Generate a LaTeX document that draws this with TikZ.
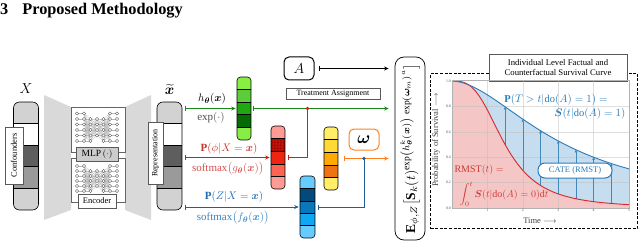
\documentclass[tikz,border=0pt]{standalone}
\usepackage{amsmath,amssymb}
\usepackage{bm}
\usepackage{graphicx}
\usepackage{fontspec}
\setmainfont{Liberation Serif}
\usetikzlibrary{arrows.meta,calc,patterns}
\definecolor{gA}{HTML}{88EE44}
\definecolor{gB}{HTML}{5CCC3A}
\definecolor{gC}{HTML}{1FA810}
\definecolor{gD}{HTML}{056B05}
\definecolor{rA}{HTML}{FF9A94}
\definecolor{rB}{HTML}{B00A00}
\definecolor{rC}{HTML}{EE2511}
\definecolor{rD}{HTML}{FF6452}
\definecolor{yA}{HTML}{FFEE66}
\definecolor{yB}{HTML}{FFD935}
\definecolor{yC}{HTML}{FFAA00}
\definecolor{yD}{HTML}{EE7412}
\definecolor{bA}{HTML}{66CCFF}
\definecolor{bB}{HTML}{034A7C}
\definecolor{bC}{HTML}{0A76BB}
\definecolor{bD}{HTML}{10A6F0}
\definecolor{kA}{HTML}{D2D2D2}
\definecolor{kB}{HTML}{5E5E5E}
\definecolor{kC}{HTML}{9A9A9A}
\definecolor{lgreen}{HTML}{1A871A}
\definecolor{lred}{HTML}{C0261E}
\definecolor{lblue}{HTML}{1F5E9E}
\definecolor{lorange}{HTML}{FF8020}
\definecolor{tred}{HTML}{C8322A}
\definecolor{tred2}{HTML}{D65050}
\definecolor{tblue}{HTML}{1F6AAE}
\definecolor{tblue2}{HTML}{3A84C4}
\definecolor{pblue}{HTML}{2C7BB6}
\definecolor{pred}{HTML}{D62728}
\definecolor{ptxtred}{HTML}{CC3B33}
\definecolor{fillred}{HTML}{F5C6C6}
\definecolor{fillblue}{HTML}{C6DDEF}
\definecolor{trap}{HTML}{D9D9D9}
\newcommand{\labfont}{\fontsize{11}{13}\selectfont}
% #1 = first row y, #2 = number of rows, #3 = row spacing
\newcommand{\mlpnet}[3]{%
  \pgfmathtruncatemacro\nmid{#2-1}%
  \foreach \r in {1,...,#2}{
    \draw[netline] (77,{#1+#3*(\r-1)}) -- (84,{#1+#3*(\r-1)});
    \draw[netline] (110,{#1+#3*(\r-1)}) -- (117,{#1+#3*(\r-1)});
    \foreach \s in {2,...,#2}{
      \draw[netline] (84,{#1+#3*(\r-1)}) -- (90.5,{#1+#3*(\s-1)});
      \draw[netline] (103.5,{#1+#3*(\s-1)}) -- (110,{#1+#3*(\r-1)});
    }
  }
  \foreach \r in {2,...,#2}{
    \foreach \s in {2,...,\nmid}{
      \draw[netline] (90.5,{#1+#3*(\r-1)}) -- (97,{#1+#3*(\s-1)}) -- (103.5,{#1+#3*(\r-1)});
    }
  }
  \foreach \r in {1,...,#2}{
    \foreach \xx in {77,84,110,117}{
      \filldraw[netnode] (\xx,{#1+#3*(\r-1)}) circle (1.7);
    }
  }
  \foreach \r in {2,...,#2}{
    \foreach \xx in {90.5,103.5}{
      \filldraw[netnode] (\xx,{#1+#3*(\r-1)}) circle (1.7);
    }
  }
  \foreach \s in {2,...,\nmid}{
    \filldraw[netnode] (97,{#1+#3*(\s-1)}) circle (1.7);
  }
}
\tikzset{
  vec/.style={draw, line width=0.6pt, rounded corners=3.5pt, minimum width=14pt,
    minimum height=63pt, inner sep=0pt,
    path picture={
      \foreach \c [count=\j] in {#1}{
        \pgfmathsetmacro\fa{(\j-1)/5}\pgfmathsetmacro\fb{\j/5}
        \fill[\c, sharp corners] ($(path picture bounding box.north west)!\fa!(path picture bounding box.south west)$) rectangle ($(path picture bounding box.north east)!\fb!(path picture bounding box.south east)$);
      }
      \foreach \i in {1,2,3,4}{
        \draw[black, line width=0.6pt, sharp corners] ($(path picture bounding box.north west)!\i/5!(path picture bounding box.south west)$) -- ($(path picture bounding box.north east)!\i/5!(path picture bounding box.south east)$);
      }
    }},
  col/.style={minimum width=25pt, minimum height=108pt, rounded corners=6pt},
  conn/.style={line width=0.8pt, arrows={Bar[width=5pt]-Stealth[length=4.5pt,width=4pt]}},
  branch/.style={line width=0.8pt, arrows={-Bar[width=5pt]}},
  netline/.style={gray!55, line width=0.25pt},
  netnode/.style={draw=gray!70!black, fill=white, line width=0.3pt},
  tagbox/.style={draw=gray!70!black, fill=white, line width=0.5pt, inner sep=1pt},
  gridc/.style={gray!50, line width=0.25pt, opacity=0.5},
  lab/.style={font=\labfont, inner sep=0pt},
}
\begin{document}
\begin{tikzpicture}[x=1pt,y=-1pt]
\useasboundingbox (0,0) rectangle (640,246);

% title
\node[anchor=base west, inner sep=0, font=\fontsize{16.3}{18}\selectfont\bfseries] (title) at (0,15) {3\hspace{14pt}Proposed Methodology};

% encoder trapezoids
\fill[trap] (44,95) -- (71,107) -- (71,210) -- (44,220) -- cycle;
\fill[trap] (125,107) -- (151,95) -- (151,220) -- (125,210) -- cycle;

% MLP boxes
\node[draw=gray!80!black, line width=0.5pt, fill=white, minimum width=54pt, minimum height=45pt, anchor=north west, inner sep=0] (mlptop) at (71,107) {};
\node[draw=gray!80!black, line width=0.5pt, fill=white, minimum width=54pt, minimum height=44pt, anchor=north west, inner sep=0] (mlpbot) at (71,158) {};
\mlpnet{113.5}{6}{5.5}
\mlpnet{166}{6}{5}
\node[draw=gray!70!black, fill=gray!40, line width=0.5pt, minimum width=42pt, minimum height=14pt, inner sep=1pt, font=\fontsize{9.5}{11}\selectfont] (mlplab) at (97,154) {MLP\,$(\cdot)$};
\node[tagbox, minimum width=38pt, minimum height=14pt, font=\fontsize{8.5}{10}\selectfont] (enclab) at (97,201) {Encoder};

% input and representation columns
\node[vec={kA,white,kB,kC,kA}, col] (xcol) at (26,156) {};
\node[vec={kA,white,kB,kC,kA}, col] (xt) at (169.5,156) {};
\node[inner sep=0, font=\fontsize{14}{16}\selectfont] (xlab) at (26,89) {$X$};
\node[inner sep=0, font=\fontsize{14}{16}\selectfont] (xtlab) at (169.5,89.5) {$\widetilde{\bm x}$};
\node[tagbox, rotate=90, minimum width=57pt, minimum height=18pt, font=\fontsize{8.5}{10}\selectfont] (conf) at (14,155.5) {Confounders};
\node[tagbox, rotate=90, minimum width=62pt, minimum height=15pt, font=\fontsize{8}{10}\selectfont] (repr) at (155.5,153) {Representation};

% vectors
\node[vec={gA,gB,gC,gD,gA}] (gv) at (244,108.5) {};
\node[vec={rA,rB,rC,rD,rA}] (rv) at (278,157.5) {};
\fill[pattern=dots, pattern color=rA!70!rB] ($(rv.north west)!0.22!(rv.south west)+(2.5,0)$) rectangle ($(rv.north east)!0.38!(rv.south east)+(-2.5,0)$);
\node[vec={yA,yB,yC,yD,yA}] (yv) at (331,158.5) {};
\node[vec={bA,bB,bC,bD,bA}, minimum width=15pt, minimum height=62pt] (bv) at (307.5,207) {};

% boxes
\node[draw, line width=1pt, rounded corners=5pt, minimum width=30pt, minimum height=23pt, font=\fontsize{15}{17}\selectfont] (Abox) at (299,68.5) {$A$};
\node[tagbox, minimum width=94pt, minimum height=11pt, inner sep=0.5pt, font=\fontsize{8}{9}\selectfont] (tassign) at (333,93.5) {Treatment Assignment};
\node[draw=lorange, line width=1pt, rounded corners=5pt, fill=white, minimum width=30pt, minimum height=21pt, font=\fontsize{17}{19}\selectfont] (omega) at (364,139.5) {$\bm\omega$};
\node[draw, line width=0.7pt, rounded corners=9pt, minimum width=30pt, minimum height=183pt] (ebox) at (410,148.5) {};
\node[rotate=90, inner sep=0] (etext) at (ebox.center) {\resizebox{170pt}{!}{$\mathbf{E}_{\phi,Z}\big[\mathbf{S}_k(t)^{\exp\left(h_{\bm\theta}^k(\bm x)\right)\,\exp(\bm\omega_m)^a}\big]$}};

% connectors
\coordinate (j1) at (gv.east -| bv.north);
\coordinate (j2) at (yv.east -| omega.south);
\draw[conn, lgreen] ($(xt.east |- gv.west)+(3,0)$) -- ($(gv.west)+(-1,0)$);
\draw[conn, lred] ($(xt.east |- rv.west)+(3,0)$) -- ($(rv.west)+(-1,0)$);
\draw[conn, lblue] ($(xt.east |- bv.west)+(3,0)$) -- ($(bv.west)+(-1,0)$);
\draw[conn, lgreen] ($(gv.east)+(2,0)$) -- ($(ebox.west |- gv.east)+(-6,0)$);
\draw[branch, lred] (j1) |- ($(rv.east)+(3,0)$);
\fill[lred] (j1) circle (1.8);
\draw[conn, lorange] ($(yv.east)+(6,0)$) -- ($(ebox.west |- yv.east)+(-6,0)$);
\draw[branch, lblue] (j2) |- ($(bv.east)+(3,0)$);
\fill[lblue] (j2) circle (1.8);
\draw[conn, black] ($(Abox.east)+(4,0)$) -- ($(ebox.west |- Abox.east)+(-6,0)$);

% connector labels
\node[lab] (hlab) at (212,99) {$h_{\bm\theta}(\bm x)$};
\node[lab, text=black!70] (explab) at (211,118) {$\exp(\cdot)$};
\node[lab, text=tred] (plab) at (229,148.5) {$\mathbf{P}(\phi|X=\bm x)$};
\node[lab, text=tred2] (slab) at (228,168.5) {$\mathrm{softmax}\big(g_{\bm\theta}(\bm x)\big)$};
\node[lab, text=tblue] (pzlab) at (234,196.5) {$\mathbf{P}(Z|X=\bm x)$};
\node[lab, text=tblue2] (sflab) at (233,217.5) {$\mathrm{softmax}\big(f_{\bm\theta}(\bm x)\big)$};

% plot
\node[draw, line width=1.3pt, dash pattern=on 3pt off 1.6pt, minimum width=207pt, minimum height=155pt, anchor=north west, inner sep=0] (plotbox) at (430,73) {};
\node[tagbox, align=center, font=\fontsize{8.7}{10.7}\selectfont, minimum width=138pt, minimum height=27pt] (ptitle) at (558,67.5) {Individual Level Factual and\\Counterfactual Survival Curve};
\begin{scope}[shift={(452,208)}, x=35.4pt, y=127pt]
  \fill[fillred] (0,0) -- (0,1) -- plot[domain=0.02:5, samples=80] (\x,{1/(1+(\x/1.5)^3)}) -- (5,0) -- cycle;
  \fill[fillblue] (0,1) -- plot[domain=0.02:5, samples=80] (\x,{1/(1+(\x/3.195)^1.807)}) -- plot[domain=5:0.02, samples=80] (\x,{1/(1+(\x/1.5)^3)}) -- cycle;
  \foreach \t in {1,2,3,4} \draw[gridc] (\t,0) -- (\t,1);
  \foreach \v in {0.2,0.4,0.6,0.8} \draw[gridc] (0,\v) -- (5,\v);
  \foreach \t in {1.5,2,2.5,3,3.5,4,4.5}
    \draw[pblue!90, line width=0.6pt, arrows={-Triangle[length=2.6pt,width=2.6pt]}] (\t,{1/(1+(\t/1.5)^3)}) -- (\t,{1/(1+(\t/3.195)^1.807)});
  \draw[pred, line width=0.9pt] (0,1) -- plot[domain=0.02:5, samples=80] (\x,{1/(1+(\x/1.5)^3)});
  \draw[pblue, line width=0.9pt] (0,1) -- plot[domain=0.02:5, samples=80] (\x,{1/(1+(\x/3.195)^1.807)});
  \draw[gray!60, line width=0.4pt] (0,0) rectangle (5,1.01);
  \foreach \v in {0.0,0.2,0.4,0.6,0.8,1.0}
    \node[anchor=east, inner sep=1pt, font=\fontsize{3.8}{4}\selectfont, text=gray!60!black] at (0,\v) {\v};
  \foreach \t in {1,2,3,4,5}
    \node[anchor=north, inner sep=1.2pt, font=\fontsize{3.8}{4}\selectfont, text=gray!60!black] at (\t,0) {\t};
\end{scope}
\node[font=\fontsize{8.5}{10}\selectfont, text=gray!50!black] (tlabel) at (540,221) {Time $\longrightarrow$};
\node[rotate=90, font=\fontsize{8.5}{10}\selectfont, text=gray!50!black] (ylabel) at (436,140) {Probability of Survival $\longrightarrow$};
\node[font=\fontsize{10.5}{12}\selectfont, text=pblue] (p1lab) at (556,100) {$\mathbf{P}(T>t|\mathrm{do}(A)=1)=$};
\node[anchor=east, font=\fontsize{10.5}{12}\selectfont, text=pblue] (s1lab) at (629,114) {$\bm S(t|\mathrm{do}(A)=1)$};
\node[anchor=west, font=\fontsize{10}{12}\selectfont, text=ptxtred] (rmlab) at (451,170) {$\mathrm{RMST}(t)=$};
\node[anchor=west, font=\fontsize{10}{12}\selectfont, text=ptxtred] (intlab) at (456,194) {$\displaystyle\int_0^t \bm S(t|\mathrm{do}(A)=0)\mathrm{d}t$};
\node[draw=pblue, line width=1pt, fill=white, rounded corners=7pt, minimum width=74pt, minimum height=15pt, inner sep=1pt, font=\fontsize{8.5}{10}\selectfont, text=pblue] (cate) at (575,170.5) {CATE (RMST)};
\end{tikzpicture}
\end{document}
